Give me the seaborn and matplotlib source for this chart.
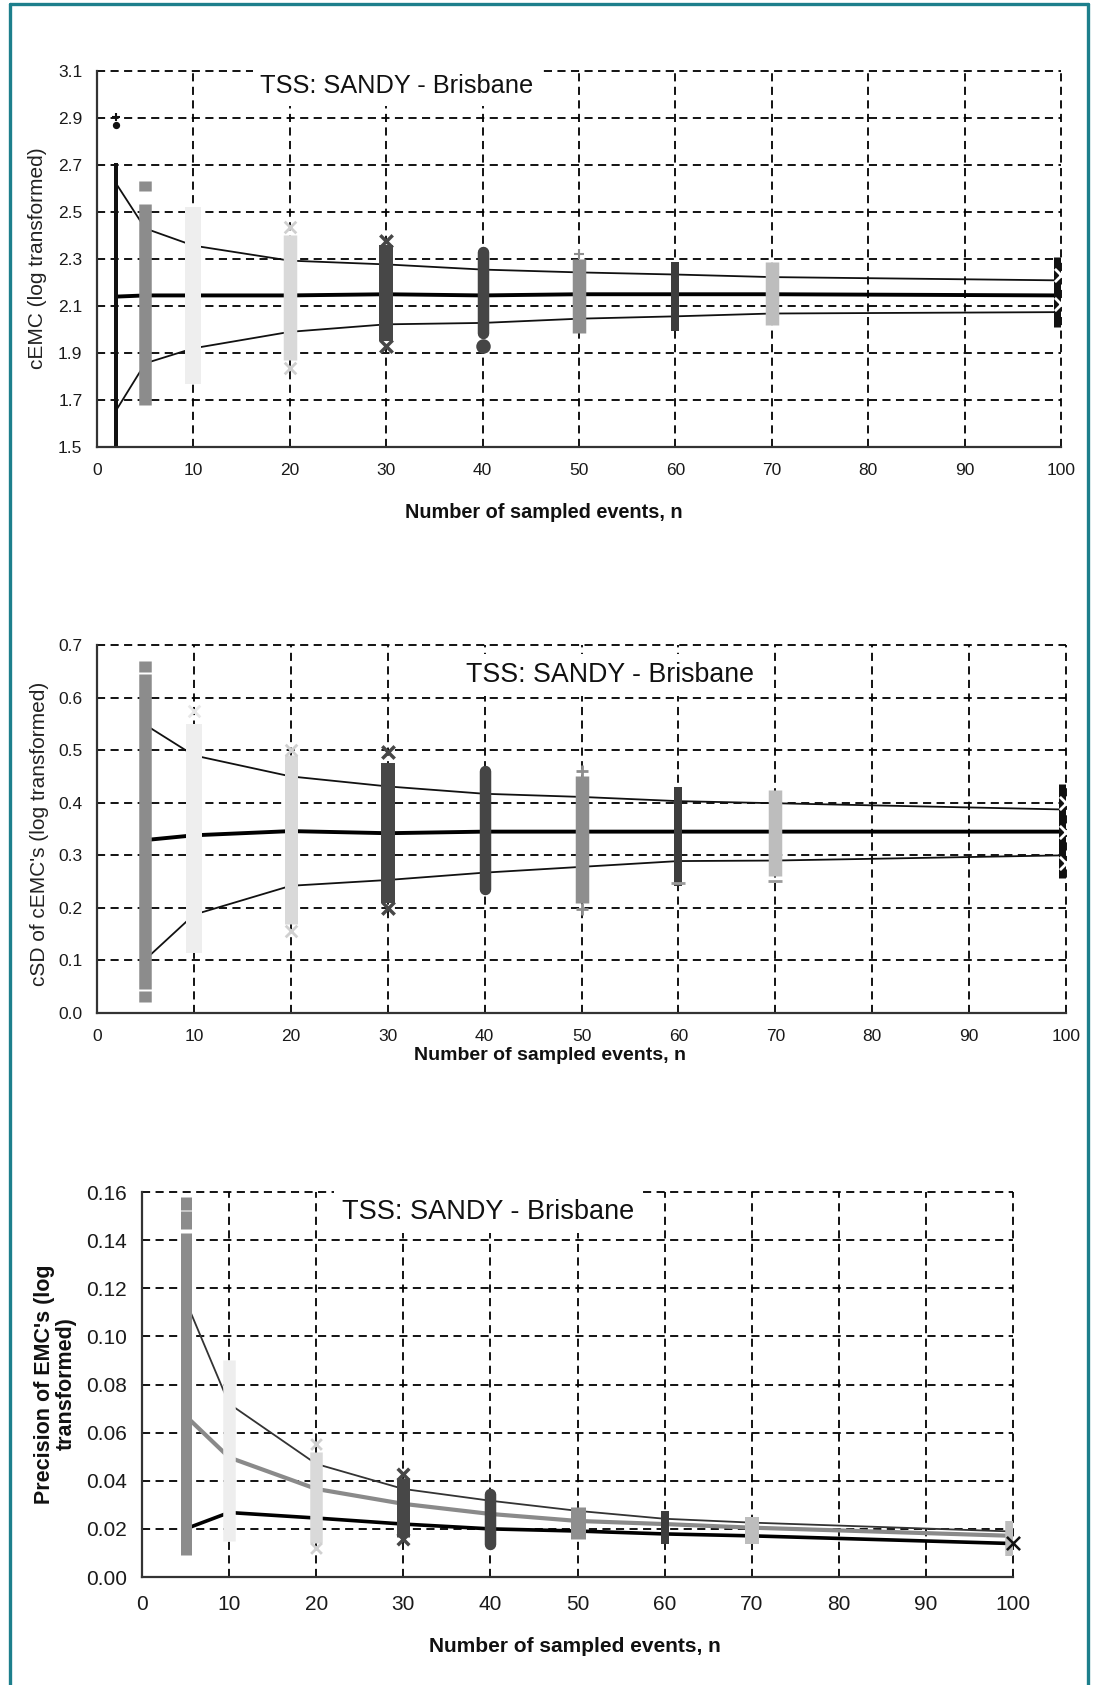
import numpy as np
import pandas as pd
import seaborn as sns
import matplotlib
matplotlib.use("Agg")
import matplotlib.pyplot as plt
from matplotlib.lines import Line2D

# ---------------- data ----------------
# Panel 1 : cEMC
n1 = [2, 5, 10, 20, 30, 40, 50, 60, 70, 100]
mean1 = [2.14, 2.145, 2.145, 2.145, 2.15, 2.145, 2.15, 2.15, 2.15, 2.145]
upper1 = [2.62, 2.43, 2.357, 2.293, 2.277, 2.255, 2.243, 2.234, 2.223, 2.209]
lower1 = [1.657, 1.856, 1.92, 1.99, 2.022, 2.028, 2.046, 2.056, 2.068, 2.074]
strip1_lo = [1.50, 1.68, 1.77, 1.87, 1.95, 1.985, 1.985, 1.993, 2.02, 2.01]
strip1_hi = [2.71, 2.535, 2.52, 2.40, 2.36, 2.33, 2.30, 2.286, 2.286, 2.31]
yticks1 = [1.5, 1.7, 1.9, 2.1, 2.3, 2.5, 2.7, 2.9, 3.1]

# Panel 2 : cSD
n2 = [5, 10, 20, 30, 40, 50, 60, 70, 100]
mean2 = [0.329, 0.338, 0.346, 0.342, 0.345, 0.345, 0.345, 0.345, 0.345]
upper2 = [0.548, 0.49, 0.45, 0.431, 0.417, 0.411, 0.403, 0.399, 0.387]
lower2 = [0.102, 0.187, 0.242, 0.253, 0.267, 0.278, 0.289, 0.29, 0.30]
strip2_lo = [0.045, 0.115, 0.17, 0.21, 0.235, 0.21, 0.242, 0.26, 0.256]
strip2_hi = [0.644, 0.55, 0.49, 0.475, 0.46, 0.45, 0.429, 0.425, 0.436]
yticks2 = [0.0, 0.1, 0.2, 0.3, 0.4, 0.5, 0.6, 0.7]

# Panel 3 : precision
n3 = [5, 10, 20, 30, 40, 50, 60, 70, 100]
upper3 = [0.115, 0.072, 0.047, 0.0366, 0.0317, 0.0275, 0.0242, 0.0226, 0.0189]
mid3 = [0.067, 0.0497, 0.0366, 0.0304, 0.0262, 0.0233, 0.022, 0.0205, 0.0171]
lower3 = [0.02, 0.0268, 0.0245, 0.022, 0.02, 0.0191, 0.0179, 0.0171, 0.0139]
strip3_lo = [0.009, 0.015, 0.014, 0.0165, 0.0137, 0.0158, 0.0137, 0.0137, 0.0087]
strip3_hi = [0.143, 0.09, 0.052, 0.041, 0.0345, 0.0289, 0.0275, 0.025, 0.0233]
yticks3 = [0.00, 0.02, 0.04, 0.06, 0.08, 0.10, 0.12, 0.14, 0.16]

xticks = [0, 10, 20, 30, 40, 50, 60, 70, 80, 90, 100]

# separate blocks of samples at n = 5 (lo, hi)
block1_lo = [2.59]
block1_hi = [2.633]
block2_lo = [0.648, 0.021]
block2_hi = [0.669, 0.042]
block3_lo = [0.1525, 0.1445]
block3_hi = [0.158, 0.152]

# separate (outlying) sample markers: (n, value)
out1_circle = ([2, 40], [2.87, 1.93])
out1_plus = ([2, 50], [2.905, 2.32])
out1_x20 = ([20, 20], [2.435, 1.835])
out1_x30 = ([30, 30], [2.378, 1.93])
out1_x100 = ([100, 100], [2.23, 2.11])

out2_x10 = ([10], [0.575])
out2_x20 = ([20, 20], [0.50, 0.156])
out2_x30 = ([30, 30], [0.497, 0.20])
out2_plus = ([50, 50], [0.46, 0.197])
out2_dash = ([70, 60], [0.251, 0.248])
out2_x100 = ([100, 100, 100], [0.40, 0.345, 0.285])

out3_x20 = ([20, 20], [0.0553, 0.0122])
out3_x30 = ([30, 30], [0.043, 0.0158])
out3_x100 = ([100], [0.0143])

# ---------------- styles ----------------
sns.set_style("white")
plt.rcParams["font.family"] = ["Liberation Sans", "DejaVu Sans"]

W, H = 1093, 1685
fig = plt.figure(figsize=(W / 100, H / 100), dpi=100)


def rect(l, t, r, b):
    return [l / W, 1 - b / H, (r - l) / W, (b - t) / H]


PX = 0.72  # points per pixel

col1 = ["#111111", "#8c8c8c", "#eeeeee", "#d9d9d9", "#474747", "#454545",
        "#8e8e8e", "#3d3d3d", "#bdbdbd", "#111111"]
wid1 = [4, 12.5, 16, 13.5, 14, 11.5, 13.5, 8, 13.5, 15]
col2 = col1[1:]
wid2 = [12.5, 16, 13, 14, 11.5, 13.5, 8, 13.5, 15]
col3 = ["#8c8c8c", "#eeeeee", "#d9d9d9", "#474747", "#454545",
        "#8e8e8e", "#3d3d3d", "#bdbdbd", "#bdbdbd"]
wid3 = [11, 12.5, 12.5, 13, 11.5, 15, 8, 14, 15.5]

GRID = dict(color="black", linestyle=(0, (4.5, 3)), linewidth=1.3)


def style_axes(ax, ylim, yticks, ylabels, xsize, xpad, ypad):
    ax.set_xlim(0, 100)
    ax.set_ylim(*ylim)
    ax.set_xticks(xticks)
    ax.set_yticks(yticks)
    ax.set_yticklabels(ylabels)
    ax.set_axisbelow(True)
    ax.grid(True, **GRID)
    for gl in ax.get_xgridlines() + ax.get_ygridlines():
        gl.set_clip_on(False)
    for s in ["top", "right"]:
        ax.spines[s].set_visible(False)
    for s in ["left", "bottom"]:
        ax.spines[s].set_color("#333333")
        ax.spines[s].set_linewidth(1.6)
        ax.spines[s].set_zorder(5)
    ax.tick_params(direction="inout", length=7, width=1.3, color="#333333",
                   labelcolor="#1a1a1a", labelsize=xsize)
    ax.tick_params(axis="x", pad=xpad)
    ax.tick_params(axis="y", pad=ypad)
    ax.set_xlabel("")
    ax.set_ylabel("")


def draw_strips(ax, ns, lo, hi, cols, wids, round_idx):
    for i, (x, a, b, c, w) in enumerate(zip(ns, lo, hi, cols, wids)):
        lc = ax.vlines(x, a, b, colors=c, linewidths=w * PX, zorder=4)
        lc.set_capstyle("round" if i in round_idx else "butt")


def draw_blocks(ax, x, lo, hi, color, w):
    ax.vlines([x] * len(lo), lo, hi, colors=color, linewidths=w * PX, zorder=4)


def pts(ax, data, marker, color, size, lw=1.5, z=5):
    sns.scatterplot(x=data[0], y=data[1], ax=ax, marker=marker, color=color,
                    s=size, linewidth=lw, edgecolor=color if marker not in ("x", "+", "_") else None,
                    zorder=z, legend=False, clip_on=False)


def title(ax, x, y, size):
    ax.text(x, y, "TSS: SANDY - Brisbane", transform=ax.transAxes, ha="center",
            va="center", fontsize=size, color="#111111", zorder=6,
            bbox=dict(boxstyle="square,pad=0.3", fc="white", ec="none"))


# ---------------- panel 1 ----------------
ax1 = fig.add_axes(rect(97, 71, 1061, 447))
style_axes(ax1, (1.5, 3.1), yticks1, [f"{v:.1f}" for v in yticks1], 12.5, 8, 7)
sns.lineplot(x=n1, y=upper1, ax=ax1, color="#111111", linewidth=1.3, zorder=3)
sns.lineplot(x=n1, y=lower1, ax=ax1, color="#111111", linewidth=1.3, zorder=3)
sns.lineplot(x=n1, y=mean1, ax=ax1, color="#000000", linewidth=2.8, zorder=3)
draw_strips(ax1, n1, strip1_lo, strip1_hi, col1, wid1, round_idx=[5])
draw_blocks(ax1, 5, block1_lo, block1_hi, "#8c8c8c", 12.5)
pts(ax1, (out1_circle[0][:1], out1_circle[1][:1]), "o", "#111111", 14)
pts(ax1, (out1_circle[0][1:], out1_circle[1][1:]), "o", "#454545", 80)
pts(ax1, (out1_plus[0][:1], out1_plus[1][:1]), "+", "#111111", 30)
pts(ax1, (out1_plus[0][1:], out1_plus[1][1:]), "+", "#8e8e8e", 60)
pts(ax1, out1_x20, "x", "#cfcfcf", 70, lw=2)
pts(ax1, out1_x30, "x", "#474747", 80, lw=2.5)
pts(ax1, out1_x100, "x", "white", 90, lw=2, z=6)
title(ax1, 0.311, 0.96, 18.3)
fig.text(544 / W, 1 - 512 / H, "Number of sampled events, n", ha="center",
         va="center", fontsize=14.3, fontweight="bold", color="#111111")
fig.text(38 / W, 1 - 258 / H, "cEMC (log transformed)", ha="center",
         va="center", rotation=90, fontsize=15, color="#222222")

# ---------------- panel 2 ----------------
ax2 = fig.add_axes(rect(97, 645, 1066, 1013))
style_axes(ax2, (0.0, 0.7), yticks2, [f"{v:.1f}" for v in yticks2], 12.5, 8, 7)
sns.lineplot(x=n2, y=upper2, ax=ax2, color="#111111", linewidth=1.3, zorder=3)
sns.lineplot(x=n2, y=lower2, ax=ax2, color="#111111", linewidth=1.3, zorder=3)
sns.lineplot(x=n2, y=mean2, ax=ax2, color="#000000", linewidth=2.8, zorder=3)
draw_strips(ax2, n2, strip2_lo, strip2_hi, col2, wid2, round_idx=[4])
draw_blocks(ax2, 5, block2_lo, block2_hi, "#8c8c8c", 12.5)
pts(ax2, out2_x10, "x", "#e8e8e8", 70, lw=2)
pts(ax2, out2_x20, "x", "#d0d0d0", 70, lw=2)
pts(ax2, out2_x30, "x", "#474747", 80, lw=2.5)
pts(ax2, out2_plus, "+", "#8e8e8e", 80, lw=2)
pts(ax2, out2_dash, "_", "#9a9a9a", 90, lw=2)
pts(ax2, out2_x100, "x", "white", 90, lw=2, z=6)
title(ax2, 0.529, 0.918, 19.3)
fig.text(550 / W, 1 - 1056 / H, "Number of sampled events, n", ha="center",
         va="center", fontsize=14, fontweight="bold", color="#111111")
fig.text(40 / W, 1 - 834 / H, "cSD of cEMC's (log transformed)", ha="center",
         va="center", rotation=90, fontsize=15, color="#222222")

# ---------------- panel 3 ----------------
ax3 = fig.add_axes(rect(142, 1192, 1013, 1577))
style_axes(ax3, (0.0, 0.16), yticks3, [f"{v:.2f}" for v in yticks3], 15, 9.5, 7.5)
sns.lineplot(x=n3, y=upper3, ax=ax3, color="#333333", linewidth=1.3, zorder=3)
sns.lineplot(x=n3, y=mid3, ax=ax3, color="#8a8a8a", linewidth=3.0, zorder=3)
sns.lineplot(x=n3, y=lower3, ax=ax3, color="#000000", linewidth=2.6, zorder=3)
draw_strips(ax3, n3, strip3_lo, strip3_hi, col3, wid3, round_idx=[4])
draw_blocks(ax3, 5, block3_lo, block3_hi, "#8c8c8c", 11)
pts(ax3, out3_x20, "x", "#d0d0d0", 60, lw=2)
pts(ax3, out3_x30, "x", "#474747", 70, lw=2.5)
pts(ax3, out3_x100, "x", "#111111", 90, lw=1.8, z=6)
title(ax3, 0.397, 0.948, 19.5)
fig.text(575 / W, 1 - 1646 / H, "Number of sampled events, n", ha="center",
         va="center", fontsize=15, fontweight="bold", color="#111111")
fig.text(55 / W, 1 - 1384 / H, "Precision of EMC's (log\ntransformed)",
         ha="center", va="center", rotation=90, fontsize=15.5,
         fontweight="bold", color="#111111", linespacing=1.05,
         multialignment="center")

# ---------------- teal frame ----------------
teal = "#1d7f8c"
fig.add_artist(Line2D([10 / W, 10 / W], [0, 1 - 4 / H], color=teal, lw=2.4))
fig.add_artist(Line2D([10 / W, 1088 / W], [1 - 4 / H, 1 - 4 / H], color=teal, lw=2.4))
fig.add_artist(Line2D([1088 / W, 1088 / W], [0, 1 - 4 / H], color=teal, lw=2.4))

fig.savefig("out.png", dpi=100, facecolor="white")
